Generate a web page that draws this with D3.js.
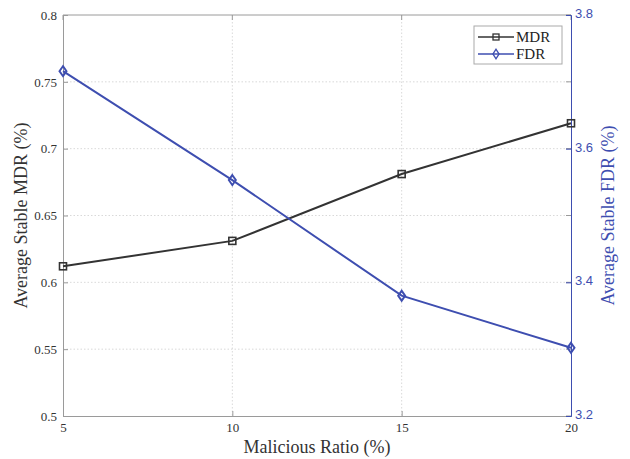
<!DOCTYPE html>
<html><head><meta charset="utf-8">
<script src="https://cdn.jsdelivr.net/npm/d3@7"></script>
<style>body{margin:0;background:#fff}svg{display:block}</style>
</head><body><svg id="c" width="630" height="459"></svg>
<script>
const ratios = [5, 10, 15, 20];
const mdr = [0.612, 0.631, 0.681, 0.719];
const fdr = [3.716, 3.553, 3.380, 3.302];
const leftTicks = [0.5, 0.55, 0.6, 0.65, 0.7, 0.75, 0.8];
const rightTicks = [3.2, 3.4, 3.6, 3.8];
const xTicks = [5, 10, 15, 20];

const svg = d3.select("#c");
const L = 63, R = 571, T = 15, B = 416;
const blue = "#3e4eb0", black = "#333333", grey = "#9a9a9a";
const x = d3.scaleLinear().domain([5, 20]).range([L, R]);
const yl = d3.scaleLinear().domain([0.5, 0.8]).range([B, T]);
const yr = d3.scaleLinear().domain([3.2, 3.8]).range([B, T]);

// grid
const g = svg.append("g");
g.selectAll(".gy").data(leftTicks.slice(1, -1)).enter().append("line")
  .attr("x1", L).attr("x2", R).attr("y1", d => yl(d)).attr("y2", d => yl(d))
  .attr("stroke", "#cfcfcf").attr("stroke-width", 0.8).attr("stroke-dasharray", "1.5,2");
g.selectAll(".gx").data(xTicks.slice(1, -1)).enter().append("line")
  .attr("y1", T).attr("y2", B).attr("x1", d => x(d)).attr("x2", d => x(d))
  .attr("stroke", "#cfcfcf").attr("stroke-width", 0.8).attr("stroke-dasharray", "1.5,2");

// box
svg.append("line").attr("x1", L).attr("x2", R).attr("y1", T).attr("y2", T).attr("stroke", grey);
// left axis
const la = svg.append("g").attr("transform", `translate(${L},0)`)
  .call(d3.axisLeft(yl).tickValues(leftTicks).tickFormat(d => d3.format("")(+d.toFixed(2))).tickSize(-5).tickPadding(6));
la.select(".domain").attr("stroke", grey);
la.selectAll(".tick line").attr("stroke", grey);
la.selectAll("text").attr("font-family", "Liberation Serif").attr("font-size", 13).attr("fill", "#333");
// mirrored ticks on right for left axis
svg.append("g").selectAll("line").data(leftTicks).enter().append("line")
  .attr("x1", R - 5).attr("x2", R).attr("y1", d => yl(d)).attr("y2", d => yl(d)).attr("stroke", grey);
// bottom axis
const ba = svg.append("g").attr("transform", `translate(0,${B})`)
  .call(d3.axisBottom(x).tickValues(xTicks).tickFormat(d3.format("d")).tickSize(-5).tickPadding(7));
ba.select(".domain").attr("stroke", grey);
ba.selectAll(".tick line").attr("stroke", grey);
ba.selectAll("text").attr("font-family", "Liberation Serif").attr("font-size", 13).attr("fill", "#333");
// top ticks
svg.append("g").selectAll("line").data(xTicks).enter().append("line")
  .attr("x1", d => x(d)).attr("x2", d => x(d)).attr("y1", T).attr("y2", T + 5).attr("stroke", grey);
// right axis
const ra = svg.append("g").attr("transform", `translate(${R},0)`)
  .call(d3.axisRight(yr).tickValues(rightTicks).tickFormat(d3.format(".1f")).tickSize(-5).tickPadding(4));
ra.select(".domain").attr("stroke", blue);
ra.selectAll(".tick line").attr("stroke", blue);
ra.selectAll("text").attr("font-family", "Liberation Sans").attr("font-size", 13).attr("fill", blue).attr("dy", "0.2em");

// lines
const lineL = d3.line().x((d, i) => x(ratios[i])).y(d => yl(d));
const lineR = d3.line().x((d, i) => x(ratios[i])).y(d => yr(d));
svg.append("path").attr("d", lineL(mdr)).attr("fill", "none").attr("stroke", black).attr("stroke-width", 2);
svg.append("path").attr("d", lineR(fdr)).attr("fill", "none").attr("stroke", blue).attr("stroke-width", 2);
svg.selectAll(".ms").data(mdr).enter().append("rect")
  .attr("x", (d, i) => x(ratios[i]) - 3.5).attr("y", d => yl(d) - 3.5).attr("width", 7).attr("height", 7)
  .attr("fill", "none").attr("stroke", black).attr("stroke-width", 1.6);
const diamond = d3.symbol().type(d3.symbolDiamond).size(32);
svg.selectAll(".md").data(fdr).enter().append("path")
  .attr("transform", (d, i) => `translate(${x(ratios[i])},${yr(d)}) scale(1.15,0.95)`)
  .attr("d", diamond).attr("fill", "none").attr("stroke", blue).attr("stroke-width", 1.8);

// labels
svg.append("text").attr("transform", `translate(27,${(T + B) / 2}) rotate(-90)`).attr("text-anchor", "middle")
  .attr("font-family", "Liberation Serif").attr("font-size", 18).attr("fill", "#333").text("Average Stable MDR (%)");
svg.append("text").attr("transform", `translate(614,${(T + B) / 2}) rotate(-90)`).attr("text-anchor", "middle")
  .attr("font-family", "Liberation Serif").attr("font-size", 18).attr("fill", blue).text("Average Stable FDR (%)");
svg.append("text").attr("x", (L + R) / 2).attr("y", 453).attr("text-anchor", "middle")
  .attr("font-family", "Liberation Serif").attr("font-size", 18).attr("fill", "#333").text("Malicious Ratio (%)");

// legend
const lg = svg.append("g");
lg.append("rect").attr("x", 474).attr("y", 26).attr("width", 88).attr("height", 38)
  .attr("fill", "#fff").attr("stroke", "#aaa").attr("stroke-width", 1);
const items = [{n: "MDR", c: black, s: "sq"}, {n: "FDR", c: blue, s: "di"}];
items.forEach((it, i) => {
  const yy = 37 + i * 17;
  lg.append("line").attr("x1", 478).attr("x2", 514).attr("y1", yy).attr("y2", yy).attr("stroke", it.c).attr("stroke-width", 1.5);
  if (it.s === "sq") lg.append("rect").attr("x", 493).attr("y", yy - 3).attr("width", 6).attr("height", 6).attr("fill", "none").attr("stroke", it.c).attr("stroke-width", 1.3);
  else lg.append("path").attr("transform", `translate(496,${yy}) scale(1,0.9)`).attr("d", diamond).attr("fill", "none").attr("stroke", it.c).attr("stroke-width", 1.4);
  lg.append("text").attr("x", 516).attr("y", yy + 5).attr("font-family", "Liberation Serif").attr("font-size", 15).attr("fill", "#222").text(it.n);
});
</script></body></html>
